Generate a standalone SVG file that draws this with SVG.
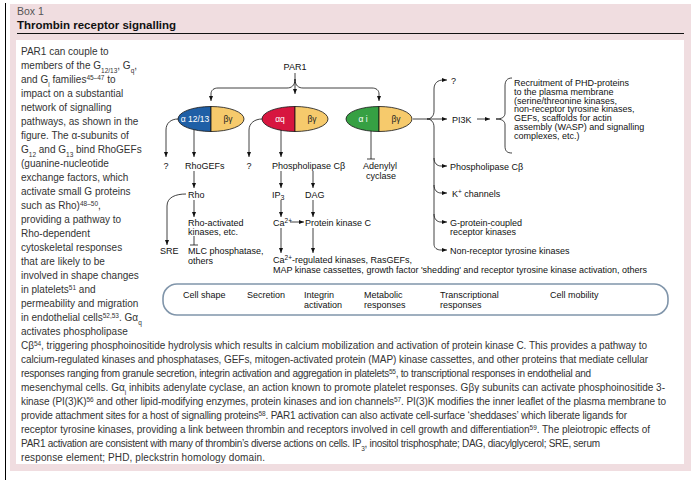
<svg xmlns="http://www.w3.org/2000/svg" width="691" height="480" viewBox="0 0 691 480">
<style>
text{font-family:"Liberation Sans",Arial,sans-serif;fill:#222}
.body{font-size:10px;fill:#333}
.lab{font-size:9px;fill:#111}
.sup{font-size:6.5px;baseline-shift:super}
.sub{font-size:6.5px;baseline-shift:sub}
.ln{fill:none;stroke:#111;stroke-width:0.8}
.arr{fill:none;stroke:#111;stroke-width:0.8;marker-end:url(#ah)}
.ell{stroke:#111;stroke-width:0.8}
.wt{fill:#fff;font-size:8.5px}
.bg{fill:#222;font-size:8.5px}
</style>
<defs>
<marker id="ah" markerUnits="userSpaceOnUse" markerWidth="5" markerHeight="4" refX="5" refY="2" orient="auto">
<path d="M0,0 L5,2 L0,4 Z" fill="#111"/>
</marker>
</defs>
<rect x="10" y="4" width="681" height="467" fill="#f0dde0"/>
<line x1="5.5" y1="3" x2="5.5" y2="480" stroke="#000" stroke-width="1"/>
<rect x="16" y="40" width="668" height="424" fill="#fff"/>
<text x="17" y="15" font-size="10.5" style="fill:#555">Box 1</text>
<text x="17" y="28.5" font-size="11.5" font-weight="bold" style="fill:#111">Thrombin receptor signalling</text>
<line x1="17" y1="33.5" x2="684" y2="33.5" stroke="#111" stroke-width="1"/>

<g id="body-text">
<text class="body" x="21" y="54.5">PAR1 can couple to</text>
<text class="body" x="21" y="68.5">members of the G<tspan class="sub">12/13</tspan>, G<tspan class="sub">q</tspan>,</text>
<text class="body" x="21" y="82.5">and G<tspan class="sub">i</tspan> families<tspan class="sup">45–47</tspan> to</text>
<text class="body" x="21" y="96.5">impact on a substantial</text>
<text class="body" x="21" y="110.5">network of signalling</text>
<text class="body" x="21" y="124.5">pathways, as shown in the</text>
<text class="body" x="21" y="138.5">figure. The α-subunits of</text>
<text class="body" x="21" y="152.5">G<tspan class="sub">12</tspan> and G<tspan class="sub">13</tspan> bind RhoGEFs</text>
<text class="body" x="21" y="166.5">(guanine-nucleotide</text>
<text class="body" x="21" y="180.5">exchange factors, which</text>
<text class="body" x="21" y="194.5">activate small G proteins</text>
<text class="body" x="21" y="208.5">such as Rho)<tspan class="sup">48–50</tspan>,</text>
<text class="body" x="21" y="222.5">providing a pathway to</text>
<text class="body" x="21" y="236.5">Rho-dependent</text>
<text class="body" x="21" y="250.5">cytoskeletal responses</text>
<text class="body" x="21" y="264.5">that are likely to be</text>
<text class="body" x="21" y="278.5">involved in shape changes</text>
<text class="body" x="21" y="292.5">in platelets<tspan class="sup">51</tspan> and</text>
<text class="body" x="21" y="306.5">permeability and migration</text>
<text class="body" x="21" y="320.5">in endothelial cells<tspan class="sup">52,53</tspan>. Gα<tspan class="sub">q</tspan></text>
<text class="body" x="21" y="334.5">activates phospholipase</text>
<text class="body" x="21" y="348.5" textLength="626" lengthAdjust="spacing">Cβ<tspan class="sup">54</tspan>, triggering phosphoinositide hydrolysis which results in calcium mobilization and activation of protein kinase C. This provides a pathway to</text>
<text class="body" x="21" y="362.5" textLength="627" lengthAdjust="spacing">calcium-regulated kinases and phosphatases, GEFs, mitogen-activated protein (MAP) kinase cassettes, and other proteins that mediate cellular</text>
<text class="body" x="21" y="376.5" textLength="570" lengthAdjust="spacing">responses ranging from granule secretion, integrin activation and aggregation in platelets<tspan class="sup">55</tspan>, to transcriptional responses in endothelial and</text>
<text class="body" x="21" y="390.5" textLength="644" lengthAdjust="spacing">mesenchymal cells. Gα<tspan class="sub">i</tspan> inhibits adenylate cyclase, an action known to promote platelet responses. Gβγ subunits can activate phosphoinositide 3-</text>
<text class="body" x="21" y="404.5" textLength="645" lengthAdjust="spacing">kinase (PI(3)K)<tspan class="sup">56</tspan> and other lipid-modifying enzymes, protein kinases and ion channels<tspan class="sup">57</tspan>. PI(3)K modifies the inner leaflet of the plasma membrane to</text>
<text class="body" x="21" y="418.5" textLength="606" lengthAdjust="spacing">provide attachment sites for a host of signalling proteins<tspan class="sup">58</tspan>. PAR1 activation can also activate cell-surface ‘sheddases’ which liberate ligands for</text>
<text class="body" x="21" y="432.5" textLength="629" lengthAdjust="spacing">receptor tyrosine kinases, providing a link between thrombin and receptors involved in cell growth and differentiation<tspan class="sup">59</tspan>. The pleiotropic effects of</text>
<text class="body" x="21" y="446.5" textLength="579" lengthAdjust="spacing">PAR1 activation are consistent with many of thrombin’s diverse actions on cells. IP<tspan class="sub">3</tspan>, inositol trisphosphate; DAG, diacylglycerol; SRE, serum</text>
<text class="body" x="21" y="460.5" textLength="244" lengthAdjust="spacing">response element; PHD, pleckstrin homology domain.</text>
</g>

<g id="connectors">
<path class="arr" d="M295,79 C295,86 291,88 287,88 L218,88 C214,88 211,90 211,94 L211,101"/>
<path class="arr" d="M295,79 C295,86 299,88 303,88 L372,88 C376,88 379,90 379,94 L379,101"/>
<path class="arr" d="M295,73 L295,94"/>
<path class="arr" d="M178,119 C171,119 166,123 166,130 L166,157"/>
<path class="arr" d="M194,130 L194,157"/>
<path class="arr" d="M262,119 C255,119 249,123 249,130 L249,157"/>
<path class="arr" d="M281,130 L281,157"/>
<path class="ln" d="M371,130 L371,159 M367,159 L375,159"/>
<path class="arr" d="M194,171 L194,188"/>
<path class="arr" d="M281,171 L281,188"/>
<path class="arr" d="M313,171 L313,188"/>
<path class="arr" d="M186,194 C176,194 167,197 167,206 L167,245"/>
<path class="arr" d="M194,200 L194,217"/>
<path class="ln" d="M194,236 L194,245 M190,245 L198,245"/>
<path class="arr" d="M281,200 L281,217"/>
<path class="arr" d="M313,200 L313,217"/>
<path class="arr" d="M290,222 L304,222"/>
<path class="arr" d="M281,228 L281,253"/>
<path class="arr" d="M313,228 L313,253"/>
<path class="arr" d="M413,119 L447,119"/>
<path class="arr" d="M427,119 C431,119 434,116 434,111 L434,89 C434,83 438,80 443,80 L447,80"/>
<path class="arr" d="M427,119 C431,119 434,122 434,127 L434,244 C434,248 437,250 441,250 L447,250"/>
<path class="arr" d="M434,158 C434,163 437,166 441,166 L447,166"/>
<path class="arr" d="M434,185 C434,190 437,193 441,193 L447,193"/>
<path class="arr" d="M434,214 C434,219 437,222 441,222 L447,222"/>
<path class="arr" d="M477,119 L490,119"/>
<path class="ln" d="M512,78 C507,78 505,81 505,86 L505,113 C505,117 502,119 496,119 C502,119 505,121 505,125 L505,146 C505,151 507,153 512,153"/>
</g>

<g id="par1"><text class="lab" x="295" y="69.5" text-anchor="middle">PAR1</text></g>

<g id="g12-13">
<path class="ell" d="M211,106.5 A33,12.5 0 0 0 211,131.5 Z" fill="#1f5fa6"/>
<path class="ell" d="M211,106.5 A33,12.5 0 0 1 211,131.5 Z" fill="#f6ca6c"/>
<text class="wt" x="195" y="122" text-anchor="middle">α 12/13</text>
<text class="bg" x="228" y="122" text-anchor="middle">βγ</text>
</g>
<g id="gq">
<path class="ell" d="M295,106.5 A33,12.5 0 0 0 295,131.5 Z" fill="#d7163f"/>
<path class="ell" d="M295,106.5 A33,12.5 0 0 1 295,131.5 Z" fill="#f6ca6c"/>
<text class="wt" x="280" y="122" text-anchor="middle">αq</text>
<text class="bg" x="312" y="122" text-anchor="middle">βγ</text>
</g>
<g id="gi">
<path class="ell" d="M379,106.5 A33,12.5 0 0 0 379,131.5 Z" fill="#36a043"/>
<path class="ell" d="M379,106.5 A33,12.5 0 0 1 379,131.5 Z" fill="#f6ca6c"/>
<text class="wt" x="363" y="122" text-anchor="middle">α i</text>
<text class="bg" x="396" y="122" text-anchor="middle">βγ</text>
</g>

<g id="q1"><text class="lab" x="166" y="168.5" text-anchor="middle">?</text></g>
<g id="rhogefs"><text class="lab" x="185" y="168.5">RhoGEFs</text></g>
<g id="q2"><text class="lab" x="249" y="168.5" text-anchor="middle">?</text></g>
<g id="plcb"><text class="lab" x="272" y="168.5">Phospholipase Cβ</text></g>
<g id="adenylyl"><text class="lab" x="363" y="168.5">Adenylyl</text><text class="lab" x="366" y="179">cyclase</text></g>
<g id="rho"><text class="lab" x="188" y="197.5">Rho</text></g>
<g id="ip3"><text class="lab" x="272" y="197.5">IP<tspan font-size="7" dy="2">3</tspan></text></g>
<g id="dag"><text class="lab" x="305" y="197.5">DAG</text></g>
<g id="sre"><text class="lab" x="160" y="254">SRE</text></g>
<g id="rhokin"><text class="lab" x="188" y="225.5">Rho-activated</text><text class="lab" x="188" y="235">kinases, etc.</text></g>
<g id="mlc"><text class="lab" x="188" y="254">MLC phosphatase,</text><text class="lab" x="188" y="263.5">others</text></g>
<g id="ca"><text class="lab" x="273" y="225.5">Ca<tspan class="sup">2+</tspan></text></g>
<g id="pkc"><text class="lab" x="305" y="225.5">Protein kinase C</text></g>
<g id="ca-reg"><text class="lab" x="273" y="263">Ca<tspan class="sup">2+</tspan>-regulated kinases, RasGEFs,</text><text class="lab" x="273" y="273">MAP kinase cassettes, growth factor 'shedding' and receptor tyrosine kinase activation, others</text></g>

<g id="q3"><text class="lab" x="451" y="83.5">?</text></g>
<g id="pi3k"><text class="lab" x="452" y="122.5">PI3K</text></g>
<g id="recruit">
<text class="lab" x="514" y="86">Recruitment of PHD-proteins</text>
<text class="lab" x="514" y="94.8">to the plasma membrane</text>
<text class="lab" x="514" y="103.6">(serine/threonine kinases,</text>
<text class="lab" x="514" y="112.4">non-receptor tyrosine kinases,</text>
<text class="lab" x="514" y="121.2">GEFs, scaffolds for actin</text>
<text class="lab" x="514" y="130">assembly (WASP) and signalling</text>
<text class="lab" x="514" y="138.8">complexes, etc.)</text>
</g>
<g id="plcb2"><text class="lab" x="450" y="169.5">Phospholipase Cβ</text></g>
<g id="kch"><text class="lab" x="452" y="196.5">K<tspan class="sup">+</tspan> channels</text></g>
<g id="grk"><text class="lab" x="450" y="225.5">G-protein-coupled</text><text class="lab" x="450" y="234.5">receptor kinases</text></g>
<g id="nrtk"><text class="lab" x="450" y="253.5">Non-receptor tyrosine kinases</text></g>

<g id="responses">
<rect x="163" y="284" width="505" height="31" rx="14" ry="14" fill="none" stroke="#8095aa" stroke-width="1.6"/>
<text class="lab" x="183" y="298">Cell shape</text>
<text class="lab" x="247" y="298">Secretion</text>
<text class="lab" x="304" y="298">Integrin</text><text class="lab" x="304" y="307.5">activation</text>
<text class="lab" x="364" y="298">Metabolic</text><text class="lab" x="364" y="307.5">responses</text>
<text class="lab" x="440" y="298">Transcriptional</text><text class="lab" x="440" y="307.5">responses</text>
<text class="lab" x="550" y="298">Cell mobility</text>
</g>
</svg>
